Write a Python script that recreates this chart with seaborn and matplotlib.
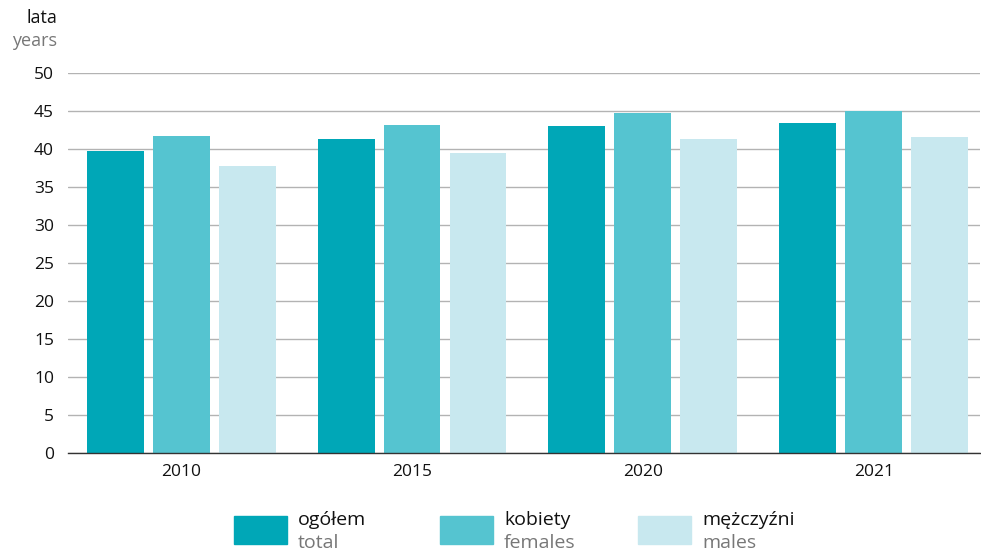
import matplotlib
matplotlib.use("Agg")
import matplotlib.pyplot as plt
import seaborn as sns
import pandas as pd
from matplotlib.patches import Rectangle

years = ["2010", "2015", "2020", "2021"]
series_pl = ["ogółem", "kobiety", "mężczyźni"]
series_en = ["total", "females", "males"]
total = [39.7, 41.3, 43.0, 43.4]
females = [41.7, 43.2, 44.8, 45.0]
males = [37.8, 39.5, 41.3, 41.6]
yticks = [0, 5, 10, 15, 20, 25, 30, 35, 40, 45, 50]
colors = ["#00A7B7", "#55C4D0", "#C8E8EF"]

df = pd.DataFrame({
    "year": years * 3,
    "value": total + females + males,
    "series": [series_pl[0]] * 4 + [series_pl[1]] * 4 + [series_pl[2]] * 4,
})

sns.set_theme(style="white")
plt.rcParams["font.family"] = ["Open Sans", "DejaVu Sans"]

fig = plt.figure(figsize=(9.81, 5.52), dpi=100)
ax = fig.add_axes([68 / 981, 1 - 453 / 552, 912 / 981, 380 / 552])

sns.barplot(data=df, x="year", y="value", hue="series", palette=colors,
            width=0.857, gap=0.137, ax=ax, legend=False, saturation=1,
            edgecolor="none", zorder=3)

ax.set_ylim(0, 50)
ax.set_xlim(-0.49, 3.46)
ax.set_yticks(yticks)
ax.set_yticklabels([str(t) for t in yticks], fontsize=12.5, color="#111111")
ax.tick_params(axis="x", labelsize=12.5, colors="#111111", length=0, pad=8)
ax.tick_params(axis="y", length=0, pad=10)
ax.set_xlabel("")
ax.set_ylabel("")
ax.grid(axis="y", color="#b3b3b3", linewidth=1, zorder=0)
for s in ["left", "right", "top"]:
    ax.spines[s].set_visible(False)
ax.spines["bottom"].set_color("#333333")
ax.spines["bottom"].set_linewidth(1)
ax.spines["bottom"].set_zorder(4)

fig.text(57 / 981, 1 - 18 / 552, "lata", ha="right", va="center", fontsize=13, color="#111111")
fig.text(57 / 981, 1 - 41 / 552, "years", ha="right", va="center", fontsize=13, color="#777777")

leg_x = [234, 440, 638]
for i in range(3):
    fig.patches.append(Rectangle((leg_x[i] / 981, 1 - 544 / 552), 53 / 981, 28 / 552,
                                 transform=fig.transFigure, color=colors[i]))
    fig.text((leg_x[i] + 64) / 981, 1 - 520 / 552, series_pl[i],
             ha="left", va="center", fontsize=14, color="#111111")
    fig.text((leg_x[i] + 64) / 981, 1 - 543 / 552, series_en[i],
             ha="left", va="center", fontsize=14, color="#777777")

fig.savefig("out.png", dpi=100)
